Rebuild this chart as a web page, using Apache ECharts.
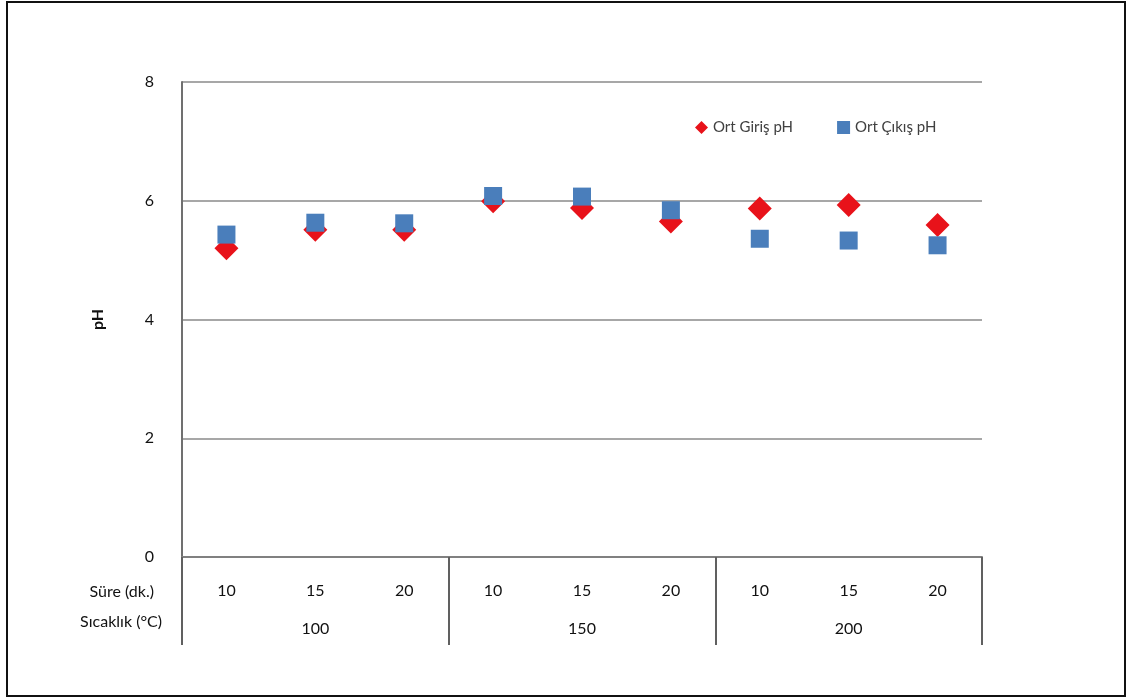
<!DOCTYPE html>
<html>
<head>
<meta charset="utf-8">
<script src="https://cdn.jsdelivr.net/npm/echarts@6/dist/echarts.min.js"></script>
<style>
  html, body { margin: 0; padding: 0; background: #fff; }
  #chart { width: 1128px; height: 698px; }
</style>
</head>
<body>
<div id="chart"></div>
<script>
// Time (min) per run, grouped by temperature (°C)
const sureLabels = ['10', '15', '20', '10', '15', '20', '10', '15', '20'];
const sicaklikLabels = ['100', '150', '200'];
const yTicks = [0, 2, 4, 6, 8];

// Average inlet / outlet pH
const girisPH = [5.20, 5.51, 5.51, 5.99, 5.88, 5.65, 5.87, 5.93, 5.59];
const cikisPH = [5.43, 5.63, 5.62, 6.08, 6.07, 5.84, 5.36, 5.33, 5.25];

const FONT = 'Lato';
const chart = echarts.init(document.getElementById('chart'), null, { renderer: 'canvas' });

chart.setOption({
  animation: false,
  backgroundColor: '#fff',
  textStyle: { fontFamily: FONT },
  grid: { left: 182, right: 146, top: 82, bottom: 141 },
  legend: {
    left: 690, top: 115,
    itemGap: 44,
    itemWidth: 13, itemHeight: 13,
    textStyle: { fontFamily: FONT, fontSize: 15, color: '#404040' },
    data: [
      { name: 'Ort Giriş pH', icon: 'diamond' },
      { name: 'Ort Çıkış pH', icon: 'rect' }
    ]
  },
  xAxis: [
    {
      type: 'category',
      data: sureLabels,
      position: 'bottom',
      boundaryGap: true,
      axisLine: { show: true, lineStyle: { color: '#808080', width: 2 } },
      axisTick: { show: false },
      axisLabel: { margin: 26, fontSize: 16, color: '#111', fontFamily: FONT },
      splitLine: { show: false }
    },
    {
      type: 'category',
      data: sicaklikLabels,
      position: 'bottom',
      boundaryGap: true,
      axisLine: { show: false },
      axisTick: { show: true, length: 88, lineStyle: { color: '#606060', width: 2 } },
      axisLabel: { margin: 64, fontSize: 16, color: '#111', fontFamily: FONT },
      splitLine: { show: false }
    }
  ],
  yAxis: {
    type: 'value',
    min: yTicks[0], max: yTicks[yTicks.length - 1], interval: 2,
    name: 'pH',
    nameLocation: 'middle',
    nameGap: 76,
    nameRotate: 90,
    nameTextStyle: { fontSize: 16, fontWeight: 'bold', color: '#111', fontFamily: FONT },
    axisLine: { show: true, lineStyle: { color: '#707070', width: 2 } },
    axisTick: { show: false },
    axisLabel: { margin: 28, fontSize: 16, color: '#111', fontFamily: FONT },
    splitLine: { show: true, lineStyle: { color: '#8a8a8a', width: 1.5 } }
  },
  series: [
    {
      name: 'Ort Giriş pH',
      type: 'scatter',
      xAxisIndex: 0,
      symbol: 'diamond',
      symbolSize: 24,
      itemStyle: { color: '#e8121a', opacity: 1 },
      data: girisPH,
      z: 1
    },
    {
      name: 'Ort Çıkış pH',
      type: 'scatter',
      xAxisIndex: 0,
      symbol: 'rect',
      symbolSize: 18,
      itemStyle: { color: '#4a7ebb', opacity: 1 },
      data: cikisPH,
      z: 2
    }
  ],
  graphic: [
    {
      type: 'rect',
      shape: { x: 7, y: 2, width: 1118, height: 694 },
      style: { fill: 'none', stroke: '#111', lineWidth: 2 },
      silent: true
    },
    {
      type: 'text',
      right: 1128 - 154, top: 584,
      style: { text: 'Süre (dk.)', font: '16px ' + FONT, fill: '#111', textAlign: 'right' }
    },
    {
      type: 'text',
      right: 1128 - 162, top: 614,
      style: { text: 'Sıcaklık (°C)', font: '16px ' + FONT, fill: '#111', textAlign: 'right' }
    }
  ]
});
</script>
</body>
</html>
